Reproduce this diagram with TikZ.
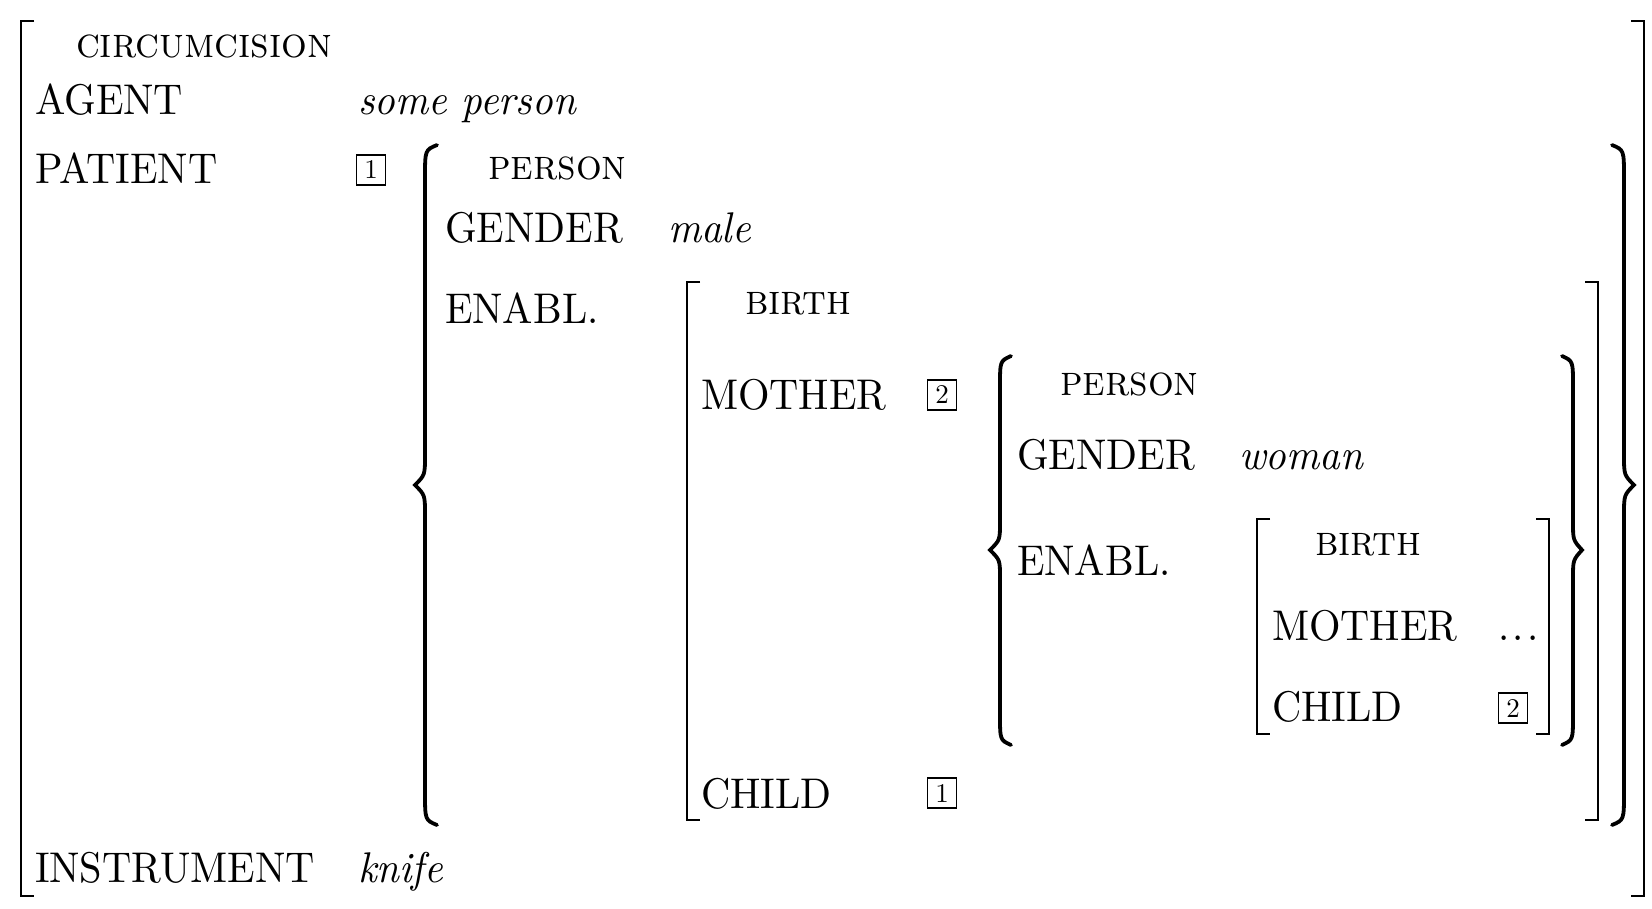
\documentclass[tikz,border=0pt]{standalone}
\usepackage{fontspec}
\setmainfont{lmroman10-regular.otf}[ItalicFont=lmroman10-italic.otf, BoldFont=lmroman10-bold.otf, SmallCapsFont=lmromancaps10-regular.otf]
\begin{document}
\begin{tikzpicture}[x=1pt,y=-1pt,
  txt/.style={anchor=base west, inner sep=0pt, outer sep=0pt, yscale=1.06, transform shape},
  feat/.style={txt, font=\fontsize{40.5}{48}\selectfont},
  val/.style={txt, font=\fontsize{40.5}{48}\selectfont\itshape},
  typ/.style={txt, font=\fontsize{40.5}{48}\selectfont\scshape},
  tag/.style={draw, line width=1.3pt, minimum width=29pt, minimum height=30pt, inner sep=0pt, font=\fontsize{27}{30}\selectfont},
  brk/.style={line width=2.8pt},
  brc/.style={line width=3.8pt, line cap=round}
]
\useasboundingbox (0,0) rectangle (1652,908);
\fill[white] (0,0) rectangle (1652,908);

% ---------- outer matrix ----------
\draw[brk] (34,21) -- (21,21) -- (21,896) -- (34,896);
\draw[brk] (1631,21) -- (1644,21) -- (1644,896) -- (1631,896);
\node[typ] (t0) at (76,57) {circumcision};
\node[feat] (agent) at (35,114) {AGENT};
\node[val] (someperson) at (358,114) {some person};
\node[feat] (patient) at (35,183) {PATIENT};
\node[tag] (tag1a) at (371,170) {1};
\node[feat] (instr) at (35,882) {INSTRUMENT};
\node[val] (knife) at (358,882) {knife};

% ---------- brace 1 ----------
\draw[brc] (437,145) .. controls (425,150) .. (425,178) -- (425,455)
  .. controls (425,475) .. (415,485) .. controls (425,495) .. (425,515)
  -- (425,792) .. controls (425,820) .. (437,825);
\draw[brc] (1612,145) .. controls (1624,150) .. (1624,178) -- (1624,455)
  .. controls (1624,475) .. (1634,485) .. controls (1624,495) .. (1624,515)
  -- (1624,792) .. controls (1624,820) .. (1612,825);
\node[typ] (t1) at (488,179) {person};
\node[feat] (gender1) at (445,242) {GENDER};
\node[val] (male) at (668,242) {male};
\node[feat] (enabl1) at (445,323) {ENABL.};

% ---------- bracket 2 ----------
\draw[brk] (700,282) -- (687,282) -- (687,820) -- (700,820);
\draw[brk] (1585,282) -- (1598,282) -- (1598,820) -- (1585,820);
\node[typ] (t2) at (745,314) {birth};
\node[feat] (mother2) at (701,409) {MOTHER};
\node[tag] (tag2a) at (942,395) {2};
\node[feat] (child2) at (701,808) {CHILD};
\node[tag] (tag1b) at (942,793) {1};

% ---------- brace 3 ----------
\draw[brc] (1011,356) .. controls (1000,361) .. (1000,386) -- (1000,522)
  .. controls (1000,540) .. (990,550) .. controls (1000,560) .. (1000,578)
  -- (1000,715) .. controls (1000,740) .. (1011,745);
\draw[brc] (1562,356) .. controls (1573,361) .. (1573,386) -- (1573,522)
  .. controls (1573,540) .. (1582,550) .. controls (1573,560) .. (1573,578)
  -- (1573,715) .. controls (1573,740) .. (1562,745);
\node[typ] (t3) at (1060,395) {person};
\node[feat] (gender3) at (1017,469) {GENDER};
\node[val] (woman) at (1239,469) {woman};
\node[feat] (enabl3) at (1017,575) {ENABL.};

% ---------- bracket 4 ----------
\draw[brk] (1270,519) -- (1257,519) -- (1257,734) -- (1270,734);
\draw[brk] (1536,519) -- (1549,519) -- (1549,734) -- (1536,734);
\node[typ] (t4) at (1315,555) {birth};
\node[feat] (mother4) at (1272,640) {MOTHER};
\node[feat] (dots) at (1498,640) {.\hspace{0.09em}.\hspace{0.09em}.};
\node[feat] (child4) at (1272,721) {CHILD};
\node[tag] (tag2b) at (1513,708) {2};
\end{tikzpicture}
\end{document}
